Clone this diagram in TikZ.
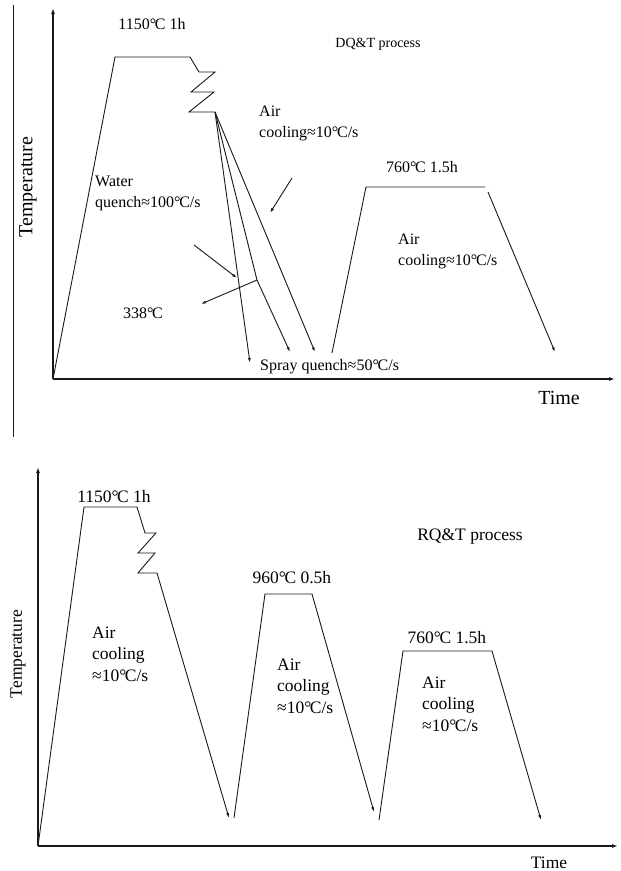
\documentclass[tikz,border=0pt]{standalone}
\usepackage{fontspec}
\setmainfont{Liberation Serif}
\usetikzlibrary{arrows.meta}
\newcommand{\degc}{\char"00B0\kern-0.08em C}

\begin{document}
\begin{tikzpicture}[x=1pt,y=-1pt,
	curve/.style={draw=cline,line width=0.9pt,line join=miter},
	axis/.style={draw=cline,line width=1.2pt,-{Latex[length=6pt,width=4pt]}},
	cool/.style={curve,-{Latex[length=5pt,width=3pt]}},
	lbl/.style={text=ctext,inner sep=0pt,font=\fontsize{16}{21}\selectfont},
	big/.style={text=ctext,inner sep=0pt,font=\fontsize{17.5}{21.5}\selectfont}]
					\definecolor{cline}{rgb}{0.1,0.1,0.1}
					\definecolor{ctext}{rgb}{0.0,0.0,0.0}
					\useasboundingbox (0,0) rectangle (621,871);
					%
					\coordinate (frt) at (13,5);
					\coordinate (frb) at (13,437);
					\coordinate (o1) at (53,379);
					\coordinate (ytop1) at (53,8);
					\coordinate (xend1) at (615,379);
					\coordinate (h1a) at (115,57);
					\coordinate (h1b) at (190,57);
					\coordinate (q) at (215,112);
					\coordinate (wq) at (250,363);
					\coordinate (bend) at (257,280);
					\coordinate (sq) at (290,352);
					\coordinate (ac) at (315,352);
					\coordinate (p338) at (201,304);
					\coordinate (wqs) at (194,245);
					\coordinate (wqe) at (237,278);
					\coordinate (acs) at (292,178);
					\coordinate (ace) at (270,213);
					\coordinate (t0) at (332,353);
					\coordinate (t1) at (366,187);
					\coordinate (t2) at (485,187);
					\coordinate (t3) at (488,192);
					\coordinate (t4) at (555,352);
					%
					\coordinate (o2) at (38,846);
					\coordinate (ytop2) at (38,467);
					\coordinate (xend2) at (618,846);
					\coordinate (b1) at (84,507);
					\coordinate (b2) at (137,507);
					\coordinate (bq) at (157,573);
					\coordinate (b3) at (229,818);
					\coordinate (c0) at (234,818);
					\coordinate (c1) at (265,594);
					\coordinate (c2) at (312,594);
					\coordinate (c3) at (374,812);
					\coordinate (d0) at (379,820);
					\coordinate (d1) at (403,651);
					\coordinate (d2) at (492,651);
					\coordinate (d3) at (541,820);
					%
					\draw[curve] (frt) -- (frb);
					\draw[axis] (o1) -- (ytop1);
					\draw[axis] (o1) -- (xend1);
					\draw[curve] (o1) -- (h1a) -- (h1b) -- (199,72) -- (215,72) -- (191,92) -- (214,92) -- (189,112) -- (q);
					\draw[cool] (q) -- (wq);
					\draw[cool] (q) -- (bend) -- (sq);
					\draw[cool] (q) -- (ac);
					\draw[cool] (bend) -- (p338);
					\draw[cool] (wqs) -- (wqe);
					\draw[cool] (acs) -- (ace);
					\draw[curve] (t0) -- (t1) -- (t2);
					\draw[cool] (t3) -- (t4);
					%
					\draw[axis] (o2) -- (ytop2);
					\draw[axis] (o2) -- (xend2);
					\draw[curve] (o2) -- (b1) -- (b2) -- (145,533) -- (156,533) -- (138,553) -- (155,553) -- (138,573) -- (bq);
					\draw[cool] (bq) -- (b3);
					\draw[curve] (c0) -- (c1) -- (c2);
					\draw[cool] (c2) -- (c3);
					\draw[curve] (d0) -- (d1) -- (d2);
					\draw[cool] (d2) -- (d3);
					%
					\node[lbl,font=\fontsize{20}{24}\selectfont,rotate=90] (temp1) at (28,187) {Temperature};
					\node[lbl,font=\fontsize{20}{24}\selectfont] (time1) at (559,398) {Time};
					\node[lbl] (hold1) at (152,24) {1150\degc{} 1h};
					\node[lbl,font=\fontsize{14}{17}\selectfont] (dqt) at (378,44) {DQ\&T process};
					\node[lbl,align=left,anchor=base west] (water) at (95,207.5) {Water\\quench≈100\degc/s};
					\node[lbl,align=left,anchor=base west] (air1) at (259,137.5) {Air\\cooling≈10\degc/s};
					\node[lbl] (t338) at (143,313) {338\degc};
					\node[lbl,anchor=west] (spray) at (260,367) {Spray quench≈50\degc/s};
					\node[lbl] (hold2) at (422,167) {760\degc{} 1.5h};
					\node[lbl,align=left,anchor=base west] (air2) at (398,265.5) {Air\\cooling≈10\degc/s};
					%
					\node[big,rotate=90] (temp2) at (18,654) {Temperature};
					\node[big] (time2) at (549,863) {Time};
					\node[big] (hold3) at (114,497) {1150\degc{} 1h};
					\node[big] (rqt) at (470,537) {RQ\&T process};
					\node[big] (hold4) at (292,578) {960\degc{} 0.5h};
					\node[big] (hold5) at (447,638) {760\degc{} 1.5h};
					\node[big,align=left,anchor=base west] (air3) at (92,681) {Air\\cooling\\≈10\degc/s};
					\node[big,align=left,anchor=base west] (air4) at (277,713) {Air\\cooling\\≈10\degc/s};
					\node[big,align=left,anchor=base west] (air5) at (422,731) {Air\\cooling\\≈10\degc/s};
					%
				\end{tikzpicture}
\end{document}
